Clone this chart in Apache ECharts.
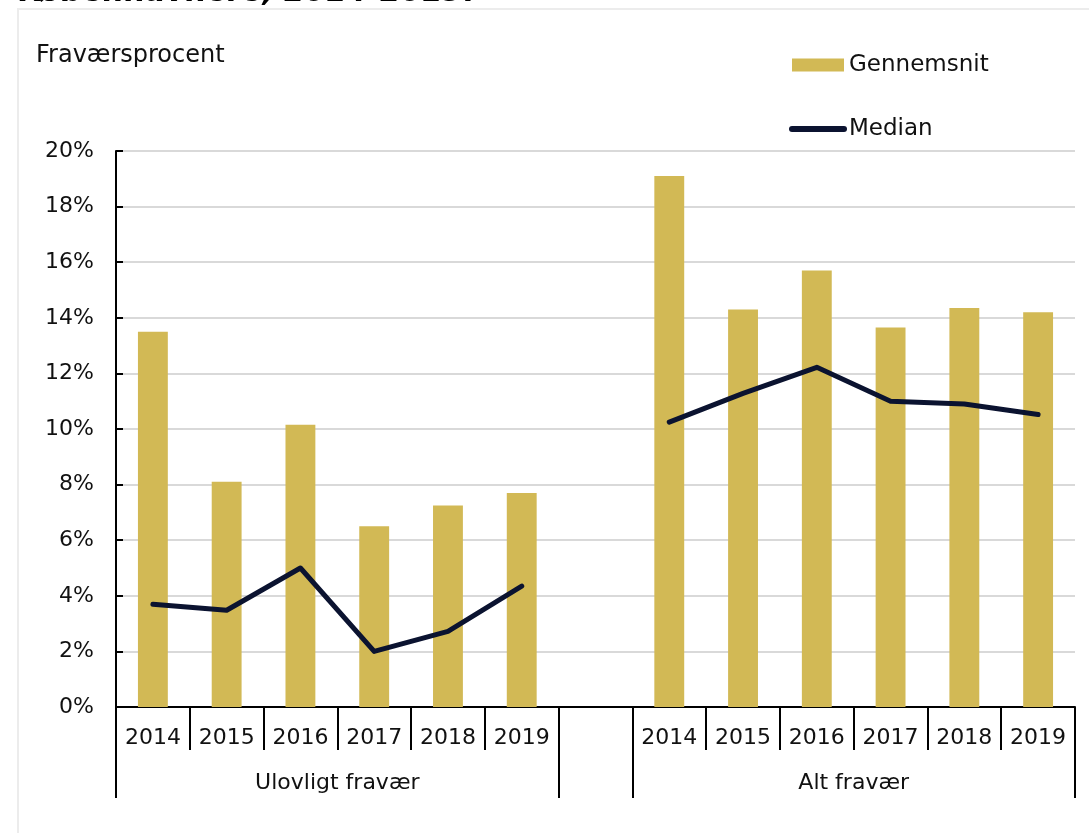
<!DOCTYPE html>
<html>
<head>
<meta charset="utf-8">
<script src="https://cdn.jsdelivr.net/npm/echarts@6/dist/echarts.min.js"></script>
<style>
  html, body { margin: 0; padding: 0; background: #fff; }
  #chart { width: 1089px; height: 833px; }
</style>
</head>
<body>
<div id="chart"></div>
<script>
const years = ['2014', '2015', '2016', '2017', '2018', '2019']
const groups = ['Ulovligt fravær', 'Alt fravær']
// gennemsnit (bars), pr. gruppe
const avgUlovligt = [13.5, 8.1, 10.15, 6.5, 7.25, 7.7]
const avgAlt = [19.1, 14.3, 15.7, 13.65, 14.35, 14.2]
// median (line)
const medUlovligt = [3.7, 3.48, 5.0, 2.0, 2.72, 4.35]
const medAlt = [10.25, 11.28, 12.22, 11.0, 10.9, 10.52]
const yTicks = [0, 2, 4, 6, 8, 10, 12, 14, 16, 18, 20]

const font = 'DejaVu Sans'
const textColor = '#111'

// one empty slot between the two groups
const categories = [...years, '', ...years]
const avgData = [...avgUlovligt, null, ...avgAlt]
const medData = [...medUlovligt, null, ...medAlt]
const n = categories.length
const groupBounds = [0, years.length, years.length + 1, n]
const groupCenters = [years.length / 2, years.length + 1 + years.length / 2]

const chart = echarts.init(document.querySelector('#chart'))
const option = {
    animation: false,
    textStyle: { fontFamily: font, color: textColor },
    graphic: [{
        type: 'rect',
        shape: { x: 18, y: 9, width: 1200, height: 900 },
        style: { fill: 'none', stroke: '#ececec', lineWidth: 2 },
        silent: true
    }],
    title: [
        {
            text: 'Københavnere, 2014-2019.',
            left: 14, top: -27,
            textStyle: { fontFamily: font, fontSize: 30, fontWeight: 'bold', fontStyle: 'italic', color: '#000' }
        },
        {
            text: 'Fraværsprocent',
            left: 31, top: 39,
            textStyle: { fontFamily: font, fontSize: 24, fontWeight: 'normal', color: textColor }
        }
    ],
    legend: {
        orient: 'vertical',
        left: 784, top: 47,
        itemWidth: 52, itemHeight: 13,
        itemGap: 38,
        textStyle: { fontFamily: font, fontSize: 23, color: textColor, lineHeight: 26 },
        data: [
            { name: 'Gennemsnit', icon: 'rect' },
            {
                name: 'Median',
                itemStyle: { opacity: 0 },
                lineStyle: { width: 6, cap: 'round', color: '#0B1330' }
            }
        ]
    },
    grid: { left: 116, right: 14, top: 151, bottom: 126, containLabel: false },
    xAxis: [
        {
            type: 'category',
            data: categories,
            boundaryGap: true,
            axisLine: { lineStyle: { color: '#000', width: 2 } },
            axisTick: { show: true, length: 43, interval: 0, lineStyle: { color: '#000', width: 2 } },
            axisLabel: { interval: 0, margin: 20, fontSize: 22, color: textColor, fontFamily: font }
        },
        {
            type: 'value',
            position: 'bottom',
            min: 0, max: n,
            axisLine: { show: false },
            splitLine: { show: false },
            axisTick: {
                show: true, length: 91, customValues: groupBounds,
                lineStyle: { color: '#000', width: 2 }
            },
            axisLabel: {
                show: true, margin: 65, fontSize: 22, color: textColor, fontFamily: font,
                customValues: groupCenters,
                formatter: v => groups[groupCenters.indexOf(v)] || ''
            }
        }
    ],
    yAxis: {
        type: 'value',
        min: yTicks[0], max: yTicks[yTicks.length - 1], interval: 2,
        axisLine: { show: true, lineStyle: { color: '#000', width: 2 } },
        axisTick: { show: true, inside: true, length: 7, lineStyle: { color: '#000', width: 2 } },
        axisLabel: { formatter: '{value}%', margin: 22, fontSize: 22, color: textColor, fontFamily: font },
        splitLine: { lineStyle: { color: '#d9d9d9', width: 2 } }
    },
    series: [
        {
            name: 'Gennemsnit',
            type: 'bar',
            xAxisIndex: 0,
            barWidth: '40.5%',
            itemStyle: { color: '#D2B955' },
            data: avgData
        },
        {
            name: 'Median',
            type: 'line',
            xAxisIndex: 0,
            symbol: 'none',
            connectNulls: false,
            lineStyle: { color: '#0B1330', width: 5, cap: 'round', join: 'round' },
            itemStyle: { color: '#0B1330' },
            data: medData
        }
    ]
}
chart.setOption(option)
</script>
</body>
</html>
